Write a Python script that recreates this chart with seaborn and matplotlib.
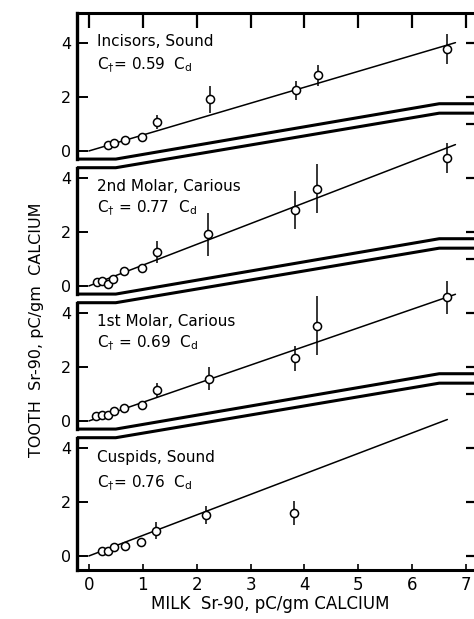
import numpy as np
import pandas as pd
import matplotlib
matplotlib.use("Agg")
import matplotlib.pyplot as plt
import seaborn as sns

sns.set_style("ticks")
plt.rcParams['font.family'] = ['DejaVu Sans']
plt.rcParams.update({"text.color": "black", "axes.edgecolor": "black", "axes.labelcolor": "black",
                     "xtick.color": "black", "ytick.color": "black"})

# ---------------- data ----------------
panel_names = ["Incisors, Sound", "2nd Molar, Carious", "1st Molar, Carious", "Cuspids, Sound"]
equations = [r"C$_{\dagger}$= 0.59  C$_{\mathsf{d}}$", r"C$_{\dagger}$ = 0.77  C$_{\mathsf{d}}$",
             r"C$_{\dagger}$ = 0.69  C$_{\mathsf{d}}$", r"C$_{\dagger}$= 0.76  C$_{\mathsf{d}}$"]
slopes = [0.59, 0.77, 0.69, 0.76]
line_end = [6.8, 6.8, 6.8, 6.65]
offsets = [15, 10, 5, 0]

x_inc = [0.36, 0.46, 0.67, 0.98, 1.26, 2.25, 3.84, 4.25, 6.65]
y_inc = [0.23, 0.31, 0.41, 0.53, 1.07, 1.91, 2.24, 2.80, 3.77]
e_inc = [0, 0, 0, 0, 0.25, 0.50, 0.35, 0.40, 0.55]

x_m2 = [0.16, 0.25, 0.36, 0.45, 0.66, 0.98, 1.26, 2.21, 3.83, 4.24, 6.65]
y_m2 = [0.15, 0.17, 0.09, 0.27, 0.54, 0.67, 1.26, 1.91, 2.80, 3.60, 4.74]
e_m2 = [0, 0, 0, 0, 0, 0, 0.42, 0.80, 0.70, 0.90, 0.55]

x_m1 = [0.14, 0.25, 0.36, 0.46, 0.66, 0.98, 1.26, 2.23, 3.82, 4.24, 6.65]
y_m1 = [0.20, 0.22, 0.22, 0.38, 0.48, 0.59, 1.15, 1.56, 2.32, 3.53, 4.58]
e_m1 = [0, 0, 0, 0, 0, 0, 0.25, 0.43, 0.46, 1.08, 0.60]

x_cus = [0.25, 0.36, 0.46, 0.67, 0.97, 1.24, 2.18, 3.81]
y_cus = [0.20, 0.20, 0.32, 0.37, 0.51, 0.93, 1.52, 1.58]
e_cus = [0, 0, 0, 0, 0, 0.32, 0.34, 0.45]

xs = [x_inc, x_m2, x_m1, x_cus]
ys = [y_inc, y_m2, y_m1, y_cus]
es = [e_inc, e_m2, e_m1, e_cus]

x_ticks = [0, 1, 2, 3, 4, 5, 6, 7]
y_ticks = [0, 2, 4]
right_ticks_rel = [0, 2, 4, 6]

# panel frame boundaries (relative to lower panel's zero)
bound_x = [-0.22, 0.5, 6.5, 7.2]
upper_rel = [4.70, 4.70, 6.75, 6.75]
lower_rel = [4.38, 4.38, 6.40, 6.40]

label_y = [4.04, 3.68, 3.68, 3.63]
eq_y = [3.19, 2.89, 2.89, 2.72]

XMIN, XMAX = -0.22, 7.2
YMIN, YMAX = -0.52, 20.11

# ---------------- figure ----------------
W, H = 474, 619
fig = plt.figure(figsize=(W / 100, H / 100), dpi=100)
ax = fig.add_axes([77 / W, 1 - 570 / H, (477 - 77) / W, (570 - 13) / H])
ax.set_xlim(XMIN, XMAX)
ax.set_ylim(YMIN, YMAX)

rows = []
for name, o, x, y, e in zip(panel_names, offsets, xs, ys, es):
    for xi, yi, ei in zip(x, y, e):
        rows.append(dict(panel=name, x=xi, y=yi + o, err=ei))
df = pd.DataFrame(rows)

# regression lines
for s, o, xe in zip(slopes, offsets, line_end):
    lx = np.array([0.0, xe])
    sns.lineplot(x=lx, y=s * lx + o, ax=ax, color="black", lw=1.1, legend=False)

# error bars
eb = df[df.err > 0]
ax.errorbar(eb.x, eb.y, yerr=eb.err, fmt="none", ecolor="black", elinewidth=1.1, capsize=0, zorder=3)

# points
sns.scatterplot(data=df, x="x", y="y", ax=ax, marker="o", s=34, facecolor="white",
                edgecolor="black", linewidth=1.1, zorder=4, legend=False)

# panel boundaries
for b in range(3):
    o = offsets[b + 1]
    ax.plot(bound_x, [o + v for v in upper_rel], color="black", lw=2.2, solid_capstyle="butt", clip_on=False)
    ax.plot(bound_x, [o + v for v in lower_rel], color="black", lw=2.2, solid_capstyle="butt", clip_on=False)

# left spine segments per panel
for i, o in enumerate(offsets):
    bottom = offsets[i + 1] + upper_rel[0] if i < 3 else YMIN
    top = o + lower_rel[0] if i > 0 else YMAX
    ax.plot([XMIN, XMIN], [bottom, top], color="black", lw=2.4, solid_capstyle="projecting", clip_on=False)

# texts
for name, eq, o, ly, ey in zip(panel_names, equations, offsets, label_y, eq_y):
    ax.text(0.16, o + ly, name, fontsize=11, ha="left", va="center")
    ax.text(0.16, o + ey, eq, fontsize=11, ha="left", va="center")

# spines / ticks
ax.spines["left"].set_visible(False)
for sp in ["top", "bottom", "right"]:
    ax.spines[sp].set_linewidth(2.2)
ax.set_xticks(x_ticks)
ax.set_xticklabels([str(t) for t in x_ticks], fontsize=12)
lt = [o + t for o in offsets for t in y_ticks]
ax.set_yticks(lt)
ax.set_yticklabels([str(t) for o in offsets for t in y_ticks], fontsize=11.5)
ax.tick_params(axis="y", direction="in", length=8, width=1.4, pad=4, left=True)
ax.tick_params(axis="x", direction="in", length=4, width=1.2, pad=4)

secx = ax.secondary_xaxis("top")
secx.set_xticks(x_ticks)
secx.set_xticklabels([])
secx.tick_params(direction="in", length=11, width=1.6)
secx.spines["top"].set_visible(False)

rt = []
for i, o in enumerate(offsets):
    low = offsets[i + 1] + upper_rel[-1] if i < 3 else YMIN
    high = o + lower_rel[-1] if i > 0 else YMAX
    rt += [o + t for t in right_ticks_rel if low < o + t < high]
ax2 = ax.twinx()
ax2.set_ylim(YMIN, YMAX)
ax2.set_yticks(rt)
ax2.set_yticklabels([])
ax2.tick_params(direction="in", length=8, width=1.6)
for sp in ax2.spines.values():
    sp.set_visible(False)

ax.set_xlabel("")
ax.set_ylabel("")
fig.text(270 / W, 1 - 604 / H, "MILK  Sr-90, pC/gm CALCIUM", fontsize=12, ha="center", va="center")
fig.text(37 / W, 1 - 330 / H, "TOOTH  Sr-90, pC/gm  CALCIUM", fontsize=11.5, ha="center", va="center",
         rotation=90)

fig.savefig("out.png", dpi=100)
